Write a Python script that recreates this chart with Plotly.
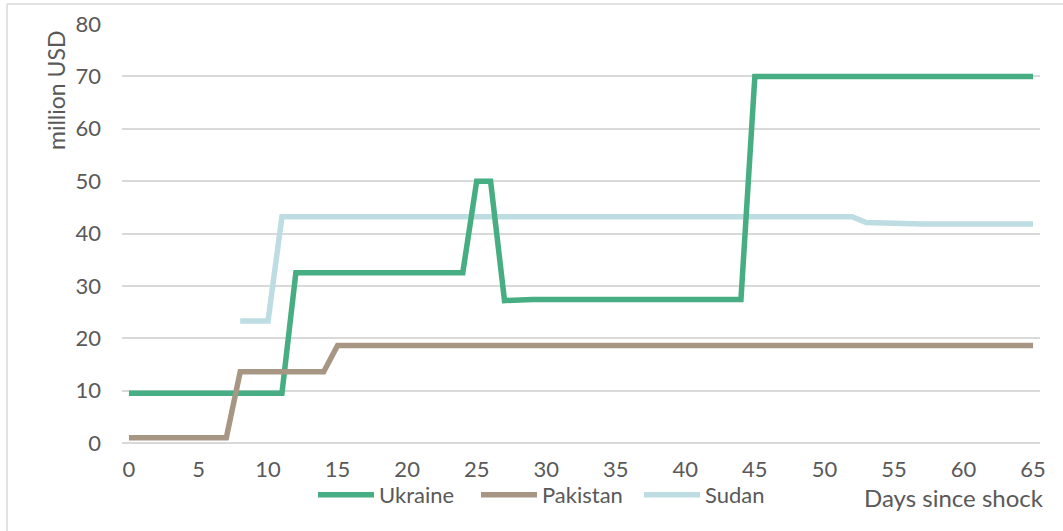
import plotly.graph_objects as go

# Days since the shock (x) and cumulative amounts in million USD (y)
days = list(range(0, 66))

ukraine = [9.5, 9.5, 9.5, 9.5, 9.5, 9.5, 9.5, 9.5, 9.5, 9.5,
           9.5, 9.5, 32.5, 32.5, 32.5, 32.5, 32.5, 32.5, 32.5, 32.5,
           32.5, 32.5, 32.5, 32.5, 32.5, 50.0, 50.0, 27.2, 27.4, 27.4,
           27.4, 27.4, 27.4, 27.4, 27.4, 27.4, 27.4, 27.4, 27.4, 27.4,
           27.4, 27.4, 27.4, 27.4, 27.4, 70.0, 70.0, 70.0, 70.0, 70.0,
           70.0, 70.0, 70.0, 70.0, 70.0, 70.0, 70.0, 70.0, 70.0, 70.0,
           70.0, 70.0, 70.0, 70.0, 70.0, 70.0]

pakistan = [1.0, 1.0, 1.0, 1.0, 1.0, 1.0, 1.0, 1.0, 13.6, 13.6,
            13.6, 13.6, 13.6, 13.6, 13.6, 18.6, 18.6, 18.6, 18.6, 18.6,
            18.6, 18.6, 18.6, 18.6, 18.6, 18.6, 18.6, 18.6, 18.6, 18.6,
            18.6, 18.6, 18.6, 18.6, 18.6, 18.6, 18.6, 18.6, 18.6, 18.6,
            18.6, 18.6, 18.6, 18.6, 18.6, 18.6, 18.6, 18.6, 18.6, 18.6,
            18.6, 18.6, 18.6, 18.6, 18.6, 18.6, 18.6, 18.6, 18.6, 18.6,
            18.6, 18.6, 18.6, 18.6, 18.6, 18.6]

sudan = [None, None, None, None, None, None, None, None, 23.3, 23.3,
         23.3, 43.2, 43.2, 43.2, 43.2, 43.2, 43.2, 43.2, 43.2, 43.2,
         43.2, 43.2, 43.2, 43.2, 43.2, 43.2, 43.2, 43.2, 43.2, 43.2,
         43.2, 43.2, 43.2, 43.2, 43.2, 43.2, 43.2, 43.2, 43.2, 43.2,
         43.2, 43.2, 43.2, 43.2, 43.2, 43.2, 43.2, 43.2, 43.2, 43.2,
         43.2, 43.2, 43.2, 42.1, 42.0, 41.8, 41.8, 41.8, 41.8, 41.8,
         41.8, 41.8, 41.8, 41.8, 41.8, 41.8]

x_ticks = [0, 5, 10, 15, 20, 25, 30, 35, 40, 45, 50, 55, 60, 65]
y_ticks = [0, 10, 20, 30, 40, 50, 60, 70, 80]

FONT = "Lato"
TEXT = "#595959"
GRID = "#d9d9d9"

W, H = 1063, 531
ML, MR, MT, MB = 122, 23, 24, 88
PW, PH = W - ML - MR, H - MT - MB


def px_x(p):
    return (p - ML) / PW


def px_y(p):
    return (H - MB - p) / PH


fig = go.Figure()

# drawing order keeps Pakistan on top and Sudan underneath
fig.add_trace(go.Scatter(x=days, y=sudan, name="Sudan", mode="lines",
                         line=dict(color="#bddde3", width=5.5),
                         legendrank=3, cliponaxis=False))
fig.add_trace(go.Scatter(x=days, y=ukraine, name="Ukraine", mode="lines",
                         line=dict(color="#47ad82", width=5.5),
                         legendrank=1, cliponaxis=False))
fig.add_trace(go.Scatter(x=days, y=pakistan, name="Pakistan", mode="lines",
                         line=dict(color="#a89684", width=5.5),
                         legendrank=2, cliponaxis=False))

fig.update_layout(
    width=W, height=H,
    margin=dict(l=ML, r=MR, t=MT, b=MB, autoexpand=False),
    paper_bgcolor="white", plot_bgcolor="white",
    font=dict(family=FONT, size=22, color=TEXT),
    showlegend=True,
    legend=dict(orientation="h", x=px_x(313), xanchor="left",
                y=px_y(495), yanchor="middle",
                font=dict(family=FONT, size=22, color=TEXT),
                itemwidth=56, tracegroupgap=0,
                entrywidth=92, entrywidthmode="pixels",
                bgcolor="rgba(0,0,0,0)"),
    xaxis=dict(range=[-0.5, 65.5], tickmode="array", tickvals=x_ticks,
               ticktext=[str(v) for v in x_ticks],
               showgrid=False, zeroline=False, showline=False, ticks="",
               ticklabelstandoff=11,
               tickfont=dict(family=FONT, size=22, color=TEXT)),
    yaxis=dict(range=[0, 80], tickmode="array", tickvals=y_ticks,
               showgrid=True, gridcolor=GRID, gridwidth=2,
               zeroline=True, zerolinecolor=GRID, zerolinewidth=2,
               showline=False, ticks="", ticklabelstandoff=20,
               tickfont=dict(family=FONT, size=22, color=TEXT)),
    annotations=[
        dict(text="million USD", textangle=-90, xref="paper", yref="paper",
             x=px_x(56), y=px_y(91), xanchor="center", yanchor="middle",
             showarrow=False, font=dict(family=FONT, size=23, color=TEXT)),
        dict(text="Days since shock", xref="paper", yref="paper",
             x=px_x(1046), y=px_y(497), xanchor="right", yanchor="middle",
             showarrow=False, font=dict(family=FONT, size=24, color=TEXT)),
    ],
    shapes=[
        dict(type="line", xref="paper", yref="paper",
             x0=px_x(7), x1=px_x(1070), y0=px_y(4), y1=px_y(4),
             line=dict(color=GRID, width=1.5)),
        dict(type="line", xref="paper", yref="paper",
             x0=px_x(7), x1=px_x(7), y0=px_y(4), y1=px_y(540),
             line=dict(color=GRID, width=1.5)),
    ],
)

fig.write_html("out.html")
